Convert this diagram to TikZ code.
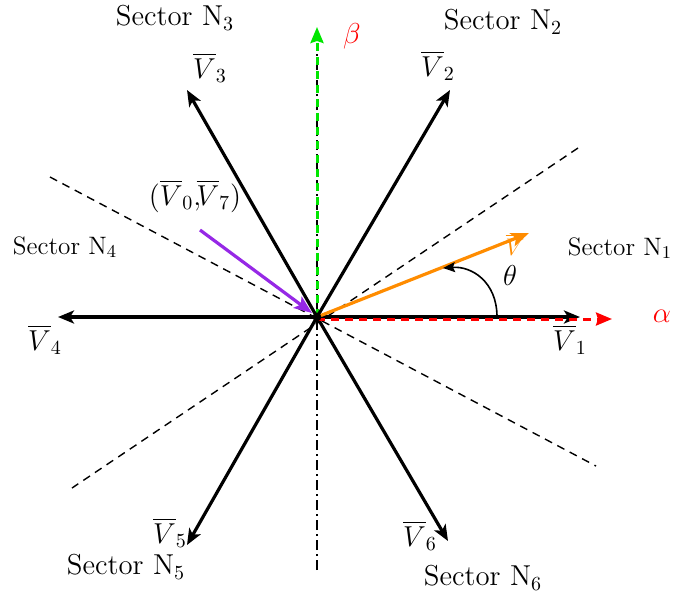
\documentclass[tikz,border=0pt]{standalone}
\usepackage{amsmath,amssymb}
\usepackage{xcolor}
\usetikzlibrary{positioning, arrows.meta, calc}
\definecolor{vorange}{RGB}{255,140,0}
\definecolor{vpurple}{RGB}{150,40,230}
\definecolor{vgreen}{RGB}{0,230,0}

\begin{document}
\begin{tikzpicture}[x=0.5pt, y=-0.5pt,
  vec/.style={-{Stealth[length=8pt, width=6.5pt, inset=2pt]}, line width=1.6pt},
  border/.style={dashed, line width=0.7pt, dash pattern=on 4pt off 3pt},
  axis/.style={-{Stealth[length=8pt, width=6.5pt, inset=1pt]}, line width=1.5pt, dash pattern=on 4pt off 3pt},
  sector/.style={font=\Large},
  sectorsm/.style={font=\fontsize{12.6}{15}\selectfont},
  vlabel/.style={font=\Large}
]
  \useasboundingbox (0,0) rectangle (673,596);
  % centre and tips
  \coordinate (O) at (317,317);
  \coordinate (t1) at (580,317);
  \coordinate (t2) at (450,90);
  \coordinate (t3) at (187,90);
  \coordinate (t4) at (58,317);
  \coordinate (t5) at (187,545);
  \coordinate (t6) at (448,541);
  % sector borders
  \coordinate (b1) at (50,177);
  \coordinate (b2) at (596,466);
  \coordinate (b3) at (578,148);
  \coordinate (b4) at (72,488);
  \draw[border] (b1) -- (b2);
  \draw[border] (b3) -- (b4);
  % beta axis
  \coordinate (ybot) at (317,570);
  \coordinate (ytop) at (317,46);
  \coordinate (beta) at (317,27);
  \draw[line width=0.8pt, dash pattern=on 5pt off 2pt on 1pt off 2pt] (ybot) -- (ytop);
  \draw[axis, vgreen] (O) -- (beta);
  % voltage vectors
  \draw[vec] (O) -- (t1);
  \draw[vec] (O) -- (t2);
  \draw[vec] (O) -- (t3);
  \draw[vec] (O) -- (t4);
  \draw[vec] (O) -- (t5);
  \draw[vec] (O) -- (t6);
  % alpha axis
  \coordinate (alpha) at (612,319);
  \draw[axis, red] ($(O)+(0,2)$) -- (alpha);
  % reference vector
  \coordinate (vref) at (529,233);
  \draw[-{Stealth[length=9pt, width=7pt, inset=2pt]}, line width=1.6pt, vorange] (O) -- (vref);
  \node[font=\large, text=vorange] (lv) at (515,245) {$\overline{V}$};
  \coordinate (v07) at (200,230);
  \draw[-{Stealth[length=9pt, width=7pt, inset=2pt]}, line width=1.6pt, vpurple] (v07) -- (312,313);
  \fill (O) circle (2.2pt);
  % angle
  \coordinate (a0) at (497,317);
  \coordinate (a1) at (443,268);
  \draw[-{Stealth[length=6pt, width=5pt, inset=1pt]}, line width=0.8pt] (a0) .. controls (497,282) and (472,266) .. (a1);
  \node[font=\Large] (th) at (510,275) {$\theta$};
  % labels
  \node[vlabel] (l1) at (570,340) {$\overline{V}_1$};
  \node[vlabel] (l2) at (438,66) {$\overline{V}_2$};
  \node[vlabel] (l3) at (210,68) {$\overline{V}_3$};
  \node[vlabel] (l4) at (45,340) {$\overline{V}_4$};
  \node[vlabel] (l5) at (170,533) {$\overline{V}_5$};
  \node[vlabel] (l6) at (420,536) {$\overline{V}_6$};
  \node[font=\Large] (l07) at (195,196) {$(\overline{V}_0{,}\!\overline{V}_7)$};
  \node[font=\Large, text=red] (la) at (662,316) {$\alpha$};
  \node[font=\Large, text=red] (lb) at (352,36) {$\beta$};
  \node[sector] (s3) at (175,18) {Sector N$_3$};
  \node[sector] (s2) at (503,22) {Sector N$_2$};
  \node[sectorsm] (s4) at (65,247) {Sector N$_4$};
  \node[sectorsm] (s1) at (620,248) {Sector N$_1$};
  \node[sector] (s5) at (126,567) {Sector N$_5$};
  \node[sector] (s6) at (483,578) {Sector N$_6$};
\end{tikzpicture}
\end{document}
